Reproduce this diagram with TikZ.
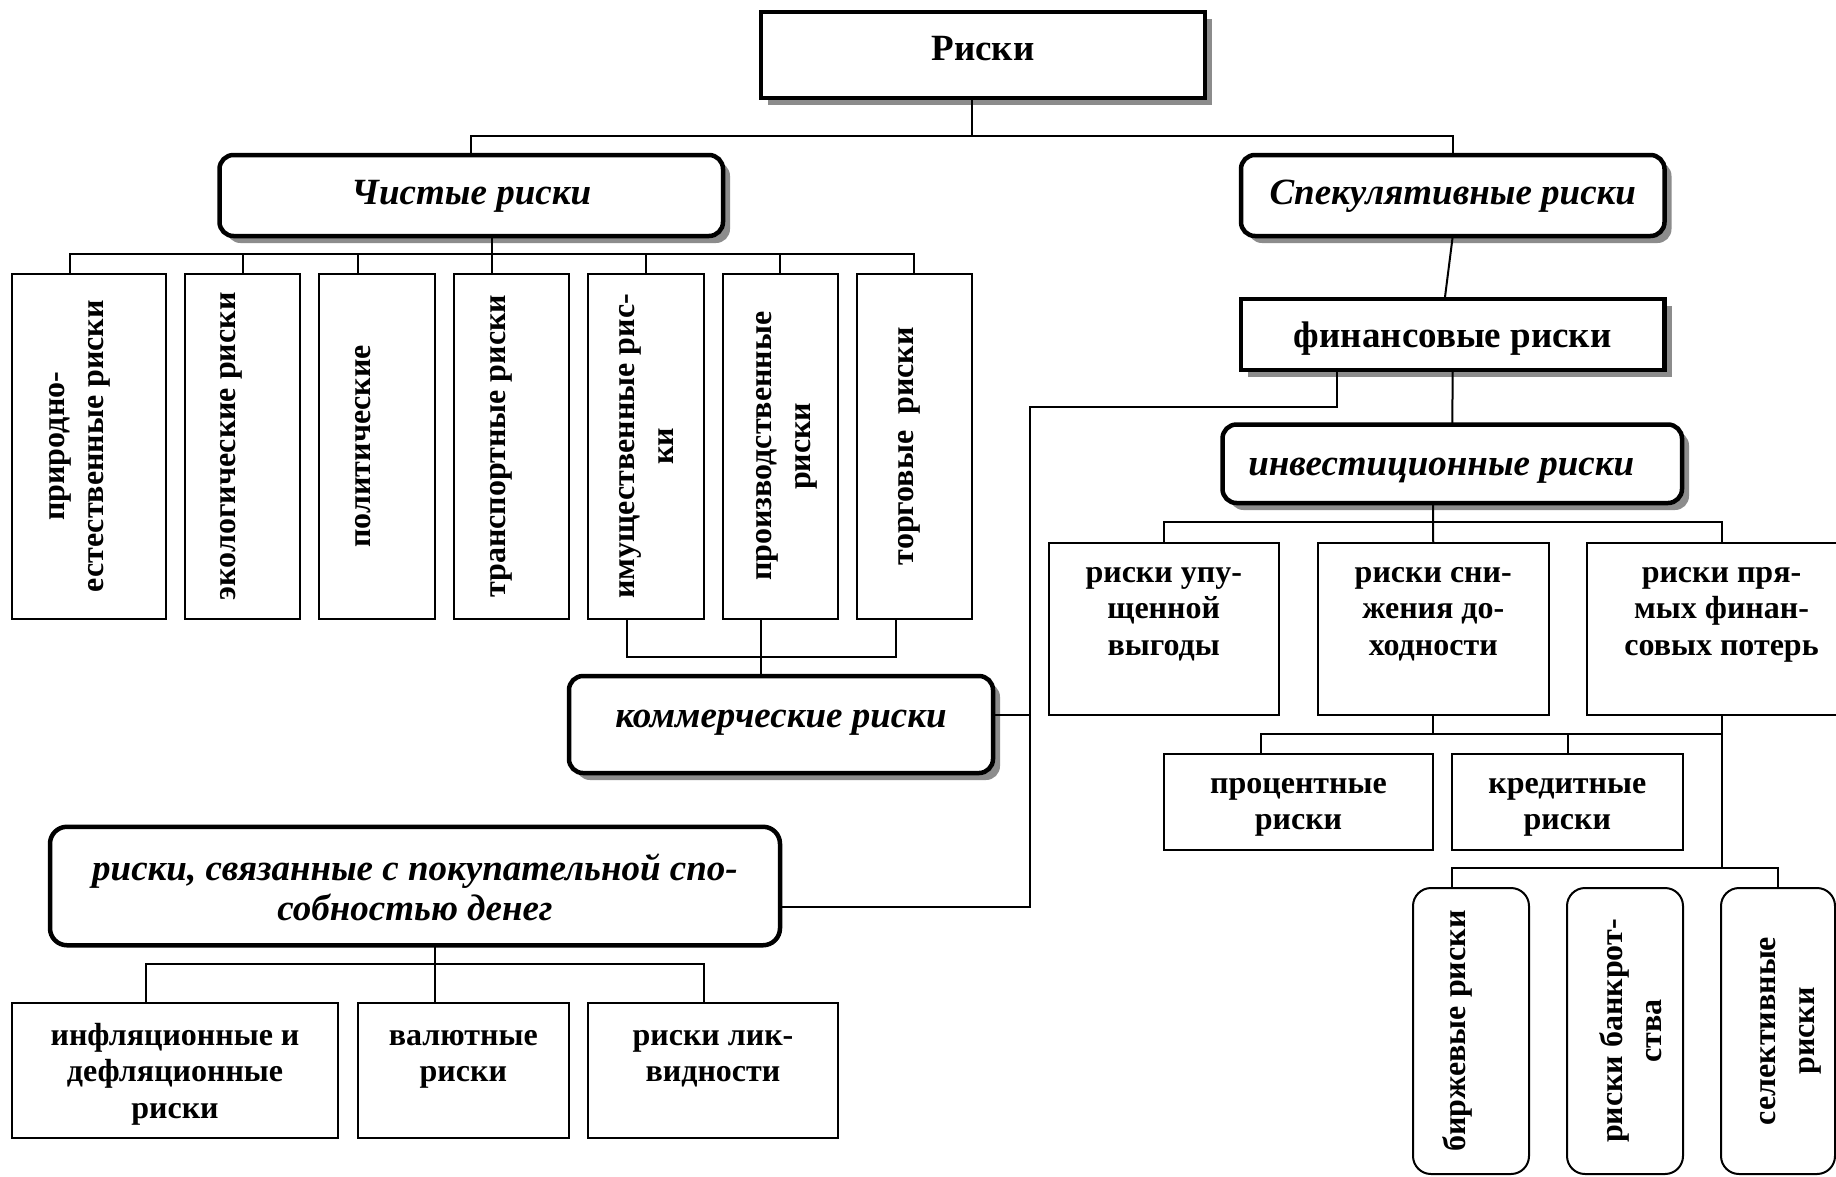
\documentclass[tikz,border=0pt]{standalone}
\usepackage{fontspec}
\usepackage{graphicx}
\setmainfont{Liberation Serif}
\usetikzlibrary{shadows,calc}

% fonts
\newcommand\hdfont{\fontsize{37}{40}\selectfont\bfseries}
\newcommand\hditfont{\fontsize{37}{40}\selectfont\bfseries\itshape}
\newcommand\bxfont{\fontsize{32}{36.5}\selectfont\bfseries}
\newcommand\vtfont{\fontsize{32}{39}\selectfont\bfseries}
% rotated label, shifted sideways by #1
\newcommand\vlab[2]{\hspace*{\dimexpr#1+#1\relax}\rotatebox{90}{\begin{tabular}{@{}c@{}}#2\end{tabular}}}

\begin{document}
\begin{tikzpicture}[x=1pt, y=-1pt,
  conn/.style={line width=2pt},
  headbox/.style={draw, line width=4.5pt, fill=white, inner sep=0pt, outer sep=0pt,
    drop shadow={shadow xshift=7pt, shadow yshift=-7pt, fill=black!45, opacity=1}},
  plainhead/.style={draw, line width=4.5pt, fill=white, inner sep=0pt, outer sep=0pt},
  rbox/.style={rounded corners=14pt},
  tbox/.style={draw, line width=2pt, fill=white, inner sep=0pt, outer sep=0pt, font=\bxfont},
  vbox/.style={draw, line width=2pt, fill=white, inner sep=0pt, outer sep=0pt, font=\vtfont},
  up/.style={text height=#1, text depth=0pt}]

\fill[white] (0,0) rectangle (1836,1176);
\useasboundingbox (0,0) rectangle (1836,1176);

% headings
\node[headbox, minimum width=444pt, minimum height=86pt, up=10pt, font=\hdfont] (risks) at (983,55) {Риски};
\node[headbox, rbox, minimum width=503.5pt, minimum height=81pt, up=17pt, font=\hditfont] (pure) at (471.25,195.5) {Чистые риски};
\node[headbox, rbox, minimum width=423.5pt, minimum height=81pt, up=17pt, font=\hditfont] (spec) at (1452.75,195.5) {Спекулятивные риски};
\node[headbox, minimum width=423.5pt, minimum height=71pt, up=25pt, font=\hdfont] (fin) at (1452.75,334.5) {финансовые риски};
\node[headbox, rbox, minimum width=459.5pt, minimum height=78.5pt, up=23.5pt, font=\hditfont] (inv) at (1452.25,463.75) {инвестиционные риски\hspace*{22pt}};
\node[headbox, rbox, minimum width=424pt, minimum height=97pt, up=5pt, font=\hditfont] (comm) at (781,724.5) {коммерческие риски};
\node[plainhead, rounded corners=17pt, minimum width=730pt, minimum height=118.5pt, up=68pt, align=center,
  font={\fontsize{37}{40}\selectfont\bfseries\itshape}] (purch) at (415,886) {риски, связанные с покупательной спо-\\собностью денег};

% kinds of pure risks
\node[vbox, minimum width=154pt, minimum height=345.5pt] (b1) at (88.7,446.25) {\vlab{-12.7pt}{природно-\\естественные риски}};
\node[vbox, minimum width=115pt, minimum height=345.5pt] (b2) at (242.5,446.25) {\vlab{-14.5pt}{экологические риски}};
\node[vbox, minimum width=116pt, minimum height=345.5pt] (b3) at (377,446.25) {\vlab{-14pt}{политические}};
\node[vbox, minimum width=115pt, minimum height=345.5pt] (b4) at (511.5,446.25) {\vlab{-14pt}{транспортные риски}};
\node[vbox, minimum width=116pt, minimum height=345.5pt] (b5) at (646,446.25) {\vlab{0pt}{имущественные рис-\\ки}};
\node[vbox, minimum width=115.5pt, minimum height=345.5pt] (b6) at (780.25,446.25) {\vlab{3pt}{производственные\\риски}};
\node[vbox, minimum width=115.5pt, minimum height=345.5pt] (b7) at (914.25,446.25) {\vlab{-9pt}{торговые\ \ риски}};

% kinds of investment risks
\node[tbox, align=center, minimum width=230.5pt, minimum height=172pt, up=52pt] (lost) at (1163.75,629) {риски упу-\\щенной\\выгоды};
\node[tbox, align=center, minimum width=230.5pt, minimum height=172pt, up=52pt] (decr) at (1433.25,629) {риски сни-\\жения до-\\ходности};
\node[tbox, align=center, minimum width=269pt, minimum height=172pt, up=52pt] (direct) at (1721.5,629) {риски пря-\\мых финан-\\совых потерь};

\node[tbox, align=center, minimum width=269pt, minimum height=96.5pt, up=55.5pt] (pct) at (1298.5,801.75) {процентные\\риски};
\node[tbox, align=center, minimum width=230.6pt, minimum height=96.5pt, up=55.5pt] (cred) at (1567.3,801.75) {кредитные\\риски};

\node[vbox, rounded corners=18pt, minimum width=116pt, minimum height=286pt] (bir) at (1471,1031) {\vlab{-13pt}{биржевые риски}};
\node[vbox, rounded corners=18pt, minimum width=116pt, minimum height=286pt] (bank) at (1625,1031) {\vlab{9pt}{риски банкрот-\\ства}};
\node[vbox, rounded corners=18pt, minimum width=114pt, minimum height=286pt] (sel) at (1778,1031) {\vlab{9pt}{селективные\\риски}};

% purchasing power risks
\node[tbox, align=center, minimum width=326.7pt, minimum height=135pt, up=95pt] (inf) at (175,1070.5) {инфляционные и\\дефляционные\\риски};
\node[tbox, align=center, minimum width=211.3pt, minimum height=135pt, up=22pt] (val) at (463.35,1070.5) {валютные\\риски};
\node[tbox, align=center, minimum width=250pt, minimum height=135pt, up=22pt] (liq) at (713,1070.5) {риски лик-\\видности};

% junction points
\coordinate (j0) at (972,136);
\coordinate (k1) at (1337,407);
\coordinate (k2) at (1030,407);
\coordinate (k3) at (1030,907);
\coordinate (j1) at (1433,522);
\coordinate (j2) at (1433,734);
\coordinate (p1) at (1260.5,734);
\coordinate (p2) at (1568,734);
\coordinate (j3) at (1721.5,868);
\coordinate (q1) at (1452,868);
\coordinate (j4) at (492,254);
\coordinate (a1) at (70,254);
\coordinate (a3) at (358,254);
\coordinate (c1) at (626.5,657);
\coordinate (c2) at (761,657);
\coordinate (c3) at (896,657);
\coordinate (d1) at (146,964);
\coordinate (d2) at (435,964);
\coordinate (d3) at (704,964);

% connectors
\draw[conn] (risks.south -| j0) -- (j0);
\draw[conn] (pure.north) |- (j0) -| (spec.north);
\draw[conn] (spec.south) -- ([xshift=-8pt]fin.north);
\draw[conn] (fin.south) -- (inv.north);
\draw[conn] (fin.south -| k1) -- (k1) -- (k2) -- (k3) -- (k3 -| purch.east);
\draw[conn] ([yshift=9.5pt]comm.east) -- ([yshift=9.5pt]comm.east -| k2);

\draw[conn] (inv.south -| j1) -- (j1) -- (decr.north);
\draw[conn] (lost.north) |- (j1) -| (direct.north);
\draw[conn] (decr.south -| j2) -- (j2);
\draw[conn] (p1 |- pct.north) -- (p1) -- (p1 -| direct.south);
\draw[conn] (p2) -- (p2 |- cred.north);
\draw[conn] (direct.south) -- (j3);
\draw[conn] (q1 |- bir.north) -- (q1) -| (sel.north);

\draw[conn] (pure.south -| j4) -- (j4) -- (j4 |- b4.north);
\draw[conn] (a1 |- b1.north) -- (a1) -- (a1 -| b7.north) -- (b7.north);
\draw[conn] (a1 -| b2.north) -- (b2.north);
\draw[conn] (a3) -- (a3 |- b3.north);
\draw[conn] (a1 -| b5.north) -- (b5.north);
\draw[conn] (a1 -| b6.north) -- (b6.north);
\draw[conn] (c1 |- b5.south) -- (c1) -- (c3) -- (c3 |- b7.south);
\draw[conn] (c2 |- b6.south) -- (c2 |- comm.north);

\draw[conn] (d2 |- purch.south) -- (d2 |- val.north);
\draw[conn] (d1 |- inf.north) -- (d1) -- (d3) -- (d3 |- liq.north);
\end{tikzpicture}
\end{document}
